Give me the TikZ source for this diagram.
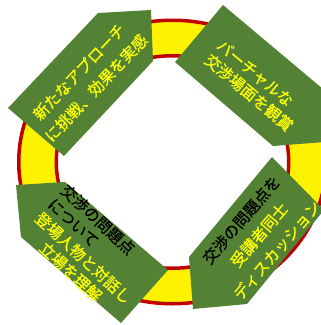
\documentclass[tikz,border=0pt]{standalone}
\usepackage{fontspec}
\newfontfamily\jp[FakeBold=0.6]{Noto Sans CJK JP}
\definecolor{arrowgreen}{HTML}{548235}
\definecolor{ringred}{HTML}{C00000}
\definecolor{txtyellow}{HTML}{FFFF00}
\begin{document}
\begin{tikzpicture}[x=1bp,y=-1bp,
  arrowshape/.style={fill=arrowgreen},
  ringstyle/.style={fill=yellow, draw=ringred, line width=3.5bp, even odd rule},
  lbl/.style={inner sep=0pt, text=txtyellow},
  wide/.style={font=\jp\fontsize{15.7}{23.5}\selectfont},
  tight/.style={font=\jp\fontsize{15.7}{19}\selectfont}]
\useasboundingbox (0,0) rectangle (321,325);
% ring
\path[ringstyle] (172.5,162) ellipse [x radius=153.75, y radius=141.75]
                 (172.5,162) ellipse [x radius=116.25, y radius=106.25];
% arrows
\fill[arrowshape] (151,10) -- (153,61) -- (64,156) -- (8,108) -- (98,13) -- cycle;
\fill[arrowshape] (325,142) -- (273,146) -- (175,62) -- (223,5) -- (323,89) -- cycle;
\fill[arrowshape] (193,309) -- (189,257) -- (272,157) -- (324,210) -- (247,304) -- cycle;
\fill[arrowshape] (16,185) -- (65,182) -- (168,270) -- (121,323) -- (21,237) -- cycle;
% labels
\node[lbl, wide, rotate=46.5, align=center] (ta) at (87.5,80) {新たなアプローチ\\に挑戦、効果を実感};
\node[lbl, tight, rotate=-40, align=left] (tb) at (255,85.5) {バーチャルな\\交渉場面を観賞};
\node[lbl, wide, rotate=49.5, align=center] (tc) at (259,235) {\textcolor{black}{交渉の問題点を}\\受講者同士\\ディスカッション};
\node[lbl, tight, rotate=-43, align=left] (td) at (90,251) {\textcolor{black}{交渉の問題点}\\\textcolor{black}{について}\\登場人物と対話し\\\makebox[8em]{立場を理解}};
\end{tikzpicture}
\end{document}
